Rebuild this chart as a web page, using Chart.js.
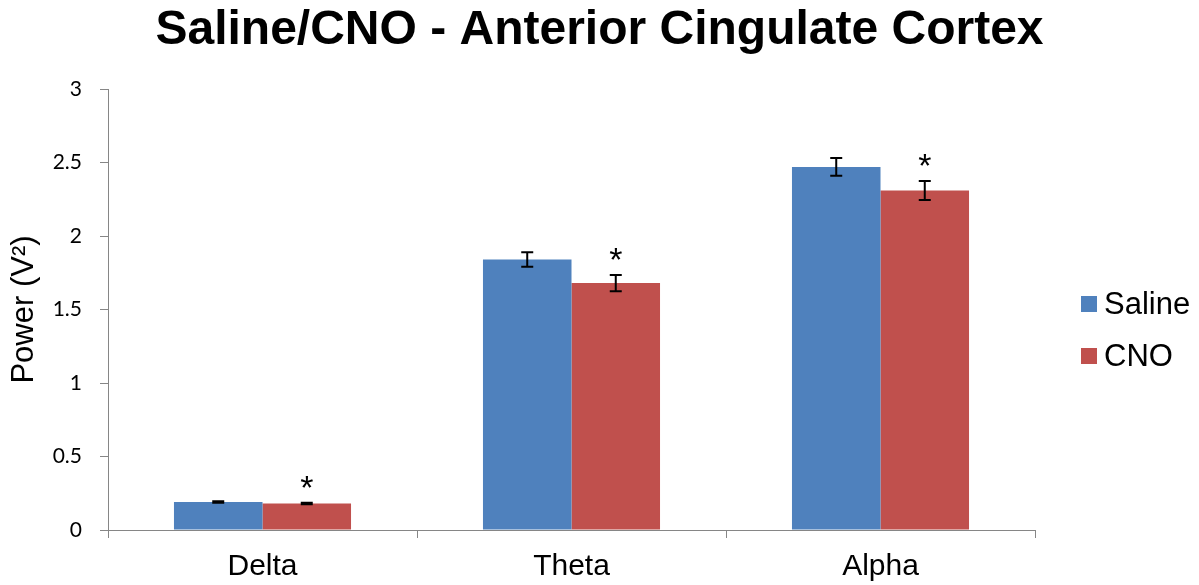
<!DOCTYPE html>
<html>
<head>
<meta charset="utf-8">
<script src="https://cdn.jsdelivr.net/npm/chart.js@4.4.1/dist/chart.umd.min.js"></script>
<style>
html,body{margin:0;padding:0;background:#fff;}
#wrap{width:1199px;height:585px;position:relative;}
</style>
</head>
<body>
<div id="wrap"><canvas id="c" width="1199" height="585"></canvas></div>
<script>
const categories = ["Delta", "Theta", "Alpha"];
const salineValues = [0.19, 1.84, 2.47];
const salineErrors = [0.005, 0.05, 0.06];
const cnoValues = [0.18, 1.68, 2.31];
const cnoErrors = [0.005, 0.055, 0.065];
const cnoSignificant = [true, true, true];
const yTicks = [0, 0.5, 1, 1.5, 2, 2.5, 3];

const FONT = "'Liberation Sans', Arial, sans-serif";

const errorBarPlugin = {
  id: 'errorBars',
  afterDatasetsDraw(chart) {
    const ctx = chart.ctx;
    const y = chart.scales.y;
    chart.data.datasets.forEach((ds, di) => {
      const meta = chart.getDatasetMeta(di);
      meta.data.forEach((bar, i) => {
        const v = ds.data[i], e = ds.errors[i];
        const yTop = y.getPixelForValue(v + e);
        const yBot = y.getPixelForValue(v - e);
        const x = bar.x;
        ctx.save();
        ctx.strokeStyle = '#000';
        ctx.lineWidth = 2;
        ctx.beginPath();
        ctx.moveTo(x, yTop); ctx.lineTo(x, yBot);
        ctx.moveTo(x - 6, yTop); ctx.lineTo(x + 6, yTop);
        ctx.moveTo(x - 6, yBot); ctx.lineTo(x + 6, yBot);
        ctx.stroke();
        if (ds.significant && ds.significant[i]) {
          ctx.fillStyle = '#000';
          ctx.font = "34px " + FONT;
          ctx.textAlign = 'center';
          ctx.textBaseline = 'alphabetic';
          ctx.fillText('*', x, yTop - 4);
        }
        ctx.restore();
      });
    });
  }
};

const legendPlugin = {
  id: 'customLegend',
  afterDraw(chart) {
    const ctx = chart.ctx;
    const ys = [304, 356];
    chart.data.datasets.forEach((ds, i) => {
      ctx.save();
      ctx.fillStyle = ds.backgroundColor;
      ctx.fillRect(1081, ys[i] - 8, 16, 16);
      ctx.fillStyle = '#000';
      ctx.font = "31px " + FONT;
      ctx.textAlign = 'left';
      ctx.textBaseline = 'middle';
      ctx.fillText(ds.label, 1104, ys[i] + 1);
      ctx.restore();
    });
  }
};

new Chart(document.getElementById('c'), {
  type: 'bar',
  data: {
    labels: categories,
    datasets: [
      { label: 'Saline', data: salineValues, errors: salineErrors, backgroundColor: '#4F81BD', borderWidth: 0 },
      { label: 'CNO', data: cnoValues, errors: cnoErrors, significant: cnoSignificant, backgroundColor: '#C0504D', borderWidth: 0 }
    ]
  },
  options: {
    responsive: false,
    animation: false,
    devicePixelRatio: 1,
    layout: { padding: 0 },
    datasets: { bar: { categoryPercentage: 0.573, barPercentage: 1.0 } },
    plugins: {
      legend: { display: false },
      tooltip: { enabled: false },
      title: {
        display: true,
        text: 'Saline/CNO - Anterior Cingulate Cortex',
        color: '#000',
        font: { family: FONT, size: 48, weight: 'bold' },
        padding: { top: 2, bottom: 29.4 }
      }
    },
    scales: {
      x: {
        grid: { display: true, drawOnChartArea: false, offset: true, color: '#868686', tickLength: 8, tickColor: '#868686' },
        border: { color: '#868686', width: 1 },
        ticks: { color: '#000', font: { family: FONT, size: 30 }, padding: 11 },
        afterFit(scale) { scale.height = 55; }
      },
      y: {
        min: 0, max: 3,
        afterBuildTicks(scale) { scale.ticks = yTicks.map(v => ({ value: v })); },
        grid: { display: true, drawOnChartArea: false, color: '#868686', tickLength: 8, tickColor: '#868686' },
        border: { color: '#868686', width: 1 },
        ticks: { color: '#000', font: { family: "Lato, 'Open Sans', sans-serif", size: 21 }, padding: 18, callback: v => String(v) },
        title: { display: true, text: 'Power (V²)', color: '#000', font: { family: FONT, size: 31 }, padding: { top: 6, bottom: 0 } },
        afterFit(scale) { scale.width = 108; }
      },
      legendSpace: {
        type: 'linear',
        position: 'right',
        display: true,
        grid: { display: false, drawOnChartArea: false },
        border: { display: false },
        ticks: { display: false },
        afterFit(scale) { scale.width = 164; }
      }
    }
  },
  plugins: [errorBarPlugin, legendPlugin]
});
</script>
</body>
</html>
